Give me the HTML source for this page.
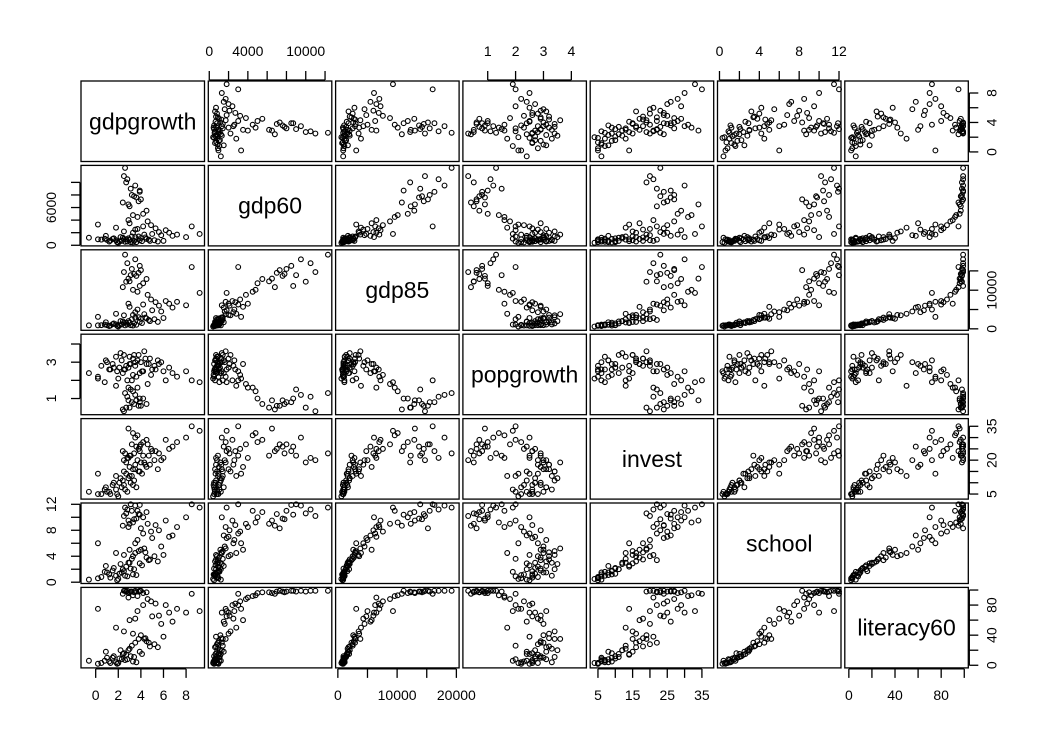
<!DOCTYPE html>
<html><head><meta charset="utf-8"><style>
body{margin:0;background:#fff}
svg{display:block;font-family:"Liberation Sans Narrow","Liberation Sans",sans-serif}
</style></head><body>
<svg id="chart" width="1050" height="750"></svg>
<script>
const varNames=["gdpgrowth","gdp60","gdp85","popgrowth","invest","school","literacy60"];
const domains=[[-1.3,9.63],[-100,12700],[-380,20460],[0.11,4.54],[2.76,38.4],[-0.2,12.2],[-3.5,103.5]];
const ticksTB=[[0,2,4,6,8],[0,2000,4000,6000,8000,10000,12000],[0,5000,10000,15000,20000],[1,2,3,4],[5,10,15,20,25,30,35],[0,2,4,6,8,10,12],[0,20,40,60,80,100]];
const labelsTB=[["0","2","4","6","8"],["0","","4000","","","10000",""],["0","","10000","","20000"],["1","2","3","4"],["5","","15","","25","","35"],["0","","4","","8","","12"],["0","","40","","80",""]];
const ticksLR=[[0,2,4,6,8],[0,2000,4000,6000,8000,10000],[0,5000,10000,15000],[1,2,3,4],[5,10,15,20,25,30,35],[0,2,4,6,8,10,12],[0,20,40,60,80,100]];
const labelsLR=[["0","","4","","8"],["0","","","6000","",""],["0","","10000",""],["1","","3",""],["5","","","20","","","35"],["0","","4","","8","","12"],["0","","40","","80",""]];
const gdpgrowth=[1.2,0.5,2.3,3.1,-0.6,1.8,2.9,4.1,0.2,3.5,2.0,1.5,4.8,3.8,2.6,1.0,5.2,2.4,3.3,0.9,4.5,2.8,1.6,3.0,6.0,2.2,3.6,1.3,4.0,2.7,5.5,3.9,0.8,2.1,4.4,3.2,1.9,3.4,2.5,4.7,5.8,6.5,3.5,7.2,4.2,2.5,5.0,3.0,6.8,1.8,4.6,8.0,3.7,5.6,2.9,9.2,4.9,3.3,6.2,0.2,4.3,5.3,3.2,3.5,2.6,3.8,3.0,4.2,2.8,3.6,2.4,3.3,4.5,3.9,2.5,3.1,2.9,3.7,4.0,2.7,8.5,3.4,3.9];
const gdp60=[600,900,700,500,1200,800,1100,650,950,1300,400,1000,700,1400,550,850,800,1200,450,1500,1000,600,1100,900,700,1300,500,750,1150,950,600,800,1050,650,1250,1400,500,700,1000,900,1600,2000,2500,1700,3000,2200,1800,3500,1500,2800,3800,1300,2600,2100,4000,1800,3200,2000,2400,3300,1700,2700,8000,9500,12300,7000,6200,5000,10500,7600,6800,4800,5500,8500,11000,9000,6500,4500,7300,10000,3000,7800,8700];
const gdp85=[720,950,1100,950,900,1150,2000,1500,900,2900,600,1200,2000,3000,900,950,2500,1900,850,1700,2700,1100,1400,1650,2800,2000,1050,850,2600,1600,1800,1800,1100,950,2900,2500,800,1400,1600,2300,4500,6500,4300,7000,6300,3500,4800,5700,5500,3900,8800,6100,5000,6000,6500,9300,7600,3600,7200,3100,3800,6900,15500,18000,19200,14500,12300,11800,17000,13700,10800,10100,12900,16300,14700,13900,13000,9600,15200,12200,16000,14200,11100];
const popgrowth=[2.6,2.8,3.1,2.9,2.4,3.3,2.7,2.5,2.2,3.0,2.1,2.9,3.2,3.4,2.6,3.0,2.8,2.4,2.3,3.1,2.9,2.0,2.7,3.3,2.5,3.5,2.2,2.6,3.0,2.8,3.1,2.4,1.9,2.7,3.2,2.0,2.5,3.4,2.6,2.9,3.0,2.7,2.8,2.2,2.5,3.4,2.6,2.9,2.4,1.7,1.8,2.5,3.1,2.9,1.6,1.9,2.3,3.2,2.0,2.1,3.6,2.6,0.8,1.2,1.3,0.6,0.5,1.0,1.1,0.9,0.4,1.4,0.7,0.8,0.3,1.5,0.9,1.6,0.6,0.5,2.0,0.7,1.0];
const invest=[6,5,8,10,6,7,12,14,5,16,4,9,18,15,7,6,20,11,9,8,17,6,10,13,21,12,8,5,19,14,16,15,7,10,18,13,5,11,9,22,20,25,18,28,22,15,24,17,26,13,27,30,20,23,21,33,25,16,29,14,19,24,27,30,23,25,22,28,21,26,24,32,29,24,20,22,34,31,27,19,35,23,26];
const school=[1.2,0.8,1.5,2.1,0.4,1.0,3.0,2.6,0.6,4.5,0.5,1.8,3.5,4.8,1.0,1.5,4.0,2.0,1.2,2.5,3.8,0.9,2.2,3.0,4.2,2.8,1.1,0.7,5.0,2.4,3.2,2.9,1.6,1.3,4.6,3.6,0.3,2.0,1.7,3.4,5.5,7.0,6.0,8.5,7.5,4.2,6.8,5.0,7.2,4.5,9.0,10.0,6.5,8.0,8.5,11.5,7.8,4.0,9.5,6.0,5.2,8.8,11.0,11.8,11.5,10.5,9.0,10.0,11.2,9.8,8.7,9.2,10.8,11.9,10.2,12.0,9.5,11.0,8.3,10.6,12.0,9.7,10.4];
const literacy60=[5,3,8,12,6,4,20,15,2,30,3,10,25,35,7,10,28,15,5,18,32,8,12,22,38,20,4,3,40,14,24,18,6,9,36,26,2,11,16,30,55,70,62,75,80,45,65,60,58,50,88,70,72,66,90,72,85,42,80,75,35,82,98,99,99,98,97,96,99,98,95,93,97,99,99,98,96,92,99,98,95,97,99];
const data=[gdpgrowth,gdp60,gdp85,popgrowth,invest,school,literacy60];

const NS="http://www.w3.org/2000/svg";
const svg=document.getElementById("chart");
const X0=81,Y0=81,STEPX=127.3,STEPY=84.4,W=123.5,H=80.5;
function mk(tag,attrs,parent){const e=document.createElementNS(NS,tag);for(const k in attrs)e.setAttribute(k,attrs[k]);(parent||svg).appendChild(e);return e;}
function sx(c,v){const d=domains[c];return X0+c*STEPX+(v-d[0])/(d[1]-d[0])*W;}
function sy(r,v){const d=domains[r];return Y0+r*STEPY+H-(v-d[0])/(d[1]-d[0])*H;}
const n=varNames.length;
for(let r=0;r<n;r++){for(let c=0;c<n;c++){
  const px=X0+c*STEPX,py=Y0+r*STEPY;
  const g=mk("g",{});
  
  
  const rect=mk("rect",{x:px,y:py,width:W,height:H,fill:"none",stroke:"#000","stroke-width":1.3},g);
  
  
  if(r===c){
    const t=mk("text",{x:px+W/2,y:py+H/2+8,"text-anchor":"middle","font-size":23},g);
    t.textContent=varNames[r];
    
    
  } else {
    const xs=data[c],ys=data[r];
    for(let i=0;i<xs.length;i++){
      const p=mk("circle",{cx:sx(c,xs[i]),cy:sy(r,ys[i]),r:2.4,fill:"none",stroke:"#000","stroke-width":1.1},g);
      
      
    }
  }
}}
for(let c=0;c<n;c++){
  const top=(c%2===1);
  const ax=mk("g",{});
  
  
  const yb=top?Y0-1:Y0+6*STEPY+H+1;
  const dir=top?-1:1;
  const tk=ticksTB[c];
  mk("line",{x1:sx(c,tk[0]),x2:sx(c,tk[tk.length-1]),y1:yb,y2:yb,stroke:"#000","stroke-width":1.3},ax);
  tk.forEach((v,i)=>{
    const x=sx(c,v);
    mk("line",{x1:x,x2:x,y1:yb,y2:yb+dir*9,stroke:"#000","stroke-width":1.3},ax);
    if(labelsTB[c][i]){const t=mk("text",{x:x,y:top?yb-24:yb+31,"text-anchor":"middle","font-size":14},ax);t.textContent=labelsTB[c][i];}
  });
}
for(let r=0;r<n;r++){
  const left=(r%2===1);
  const ax=mk("g",{});
  
  
  const xb=left?X0-1:X0+6*STEPX+W+1;
  const dir=left?-1:1;
  const tk=ticksLR[r];
  mk("line",{x1:xb,x2:xb,y1:sy(r,tk[0]),y2:sy(r,tk[tk.length-1]),stroke:"#000","stroke-width":1.3},ax);
  tk.forEach((v,i)=>{
    const y=sy(r,v);
    mk("line",{x1:xb,x2:xb+dir*9,y1:y,y2:y,stroke:"#000","stroke-width":1.3},ax);
    if(labelsLR[r][i]){
      const lx=left?xb-24:xb+27;
      const t=mk("text",{x:lx,y:y,"text-anchor":"middle","font-size":14,transform:`rotate(-90 ${lx} ${y})`},ax);
      t.textContent=labelsLR[r][i];
    }
  });
}
</script>
</body></html>
